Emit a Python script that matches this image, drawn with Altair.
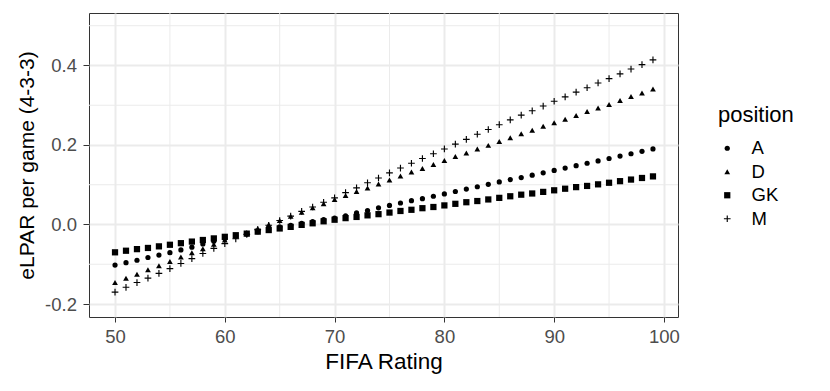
import altair as alt
import pandas as pd

ratings = list(range(50, 100))

A = [-0.102, -0.096, -0.090, -0.083, -0.077, -0.071, -0.064, -0.057, -0.049, -0.042,
     -0.035, -0.029, -0.024, -0.018, -0.012, -0.006, -0.002, 0.003, 0.007, 0.012,
     0.016, 0.022, 0.029, 0.035, 0.042, 0.048, 0.054, 0.060, 0.065, 0.071,
     0.077, 0.083, 0.089, 0.095, 0.101, 0.107, 0.113, 0.118, 0.124, 0.130,
     0.136, 0.142, 0.148, 0.154, 0.160, 0.166, 0.172, 0.178, 0.184, 0.190]

D = [-0.146, -0.135, -0.125, -0.114, -0.104, -0.093, -0.082, -0.071, -0.061, -0.050,
     -0.039, -0.029, -0.020, -0.010, 0.000, 0.010, 0.021, 0.031, 0.042, 0.052,
     0.063, 0.073, 0.083, 0.092, 0.102, 0.112, 0.122, 0.132, 0.141, 0.151,
     0.161, 0.171, 0.180, 0.190, 0.199, 0.209, 0.218, 0.228, 0.237, 0.247,
     0.256, 0.265, 0.274, 0.284, 0.293, 0.302, 0.312, 0.322, 0.331, 0.341]

GK = [-0.070, -0.066, -0.062, -0.059, -0.055, -0.051, -0.047, -0.043, -0.039, -0.035,
      -0.031, -0.027, -0.023, -0.018, -0.014, -0.010, -0.006, -0.001, 0.003, 0.008,
      0.012, 0.016, 0.019, 0.023, 0.026, 0.030, 0.034, 0.037, 0.041, 0.044,
      0.048, 0.052, 0.056, 0.059, 0.063, 0.067, 0.071, 0.075, 0.078, 0.082,
      0.086, 0.090, 0.094, 0.097, 0.101, 0.105, 0.109, 0.113, 0.117, 0.121]

M = [-0.170, -0.158, -0.146, -0.135, -0.123, -0.111, -0.098, -0.086, -0.073, -0.060,
     -0.048, -0.036, -0.025, -0.013, -0.002, 0.010, 0.021, 0.033, 0.044, 0.056,
     0.067, 0.080, 0.092, 0.105, 0.117, 0.130, 0.142, 0.154, 0.166, 0.178,
     0.190, 0.202, 0.214, 0.227, 0.239, 0.251, 0.263, 0.275, 0.286, 0.298,
     0.310, 0.321, 0.333, 0.344, 0.356, 0.367, 0.379, 0.391, 0.402, 0.414]

positions = ["A", "D", "GK", "M"]
x_major = [50, 60, 70, 80, 90, 100]
x_minor = [55, 65, 75, 85, 95]
y_major = [-0.2, 0.0, 0.2, 0.4]
y_minor = [-0.1, 0.1, 0.3, 0.5]

rows = []
for pos, vals in zip(positions, [A, D, GK, M]):
    for r, v in zip(ratings, vals):
        rows.append({"rating": r, "elpar": v, "position": pos})
df = pd.DataFrame(rows)

FONT = "Liberation Sans"
xscale = alt.Scale(domain=[47.63, 101.28], nice=False, zero=False)
yscale = alt.Scale(domain=[-0.2327, 0.532], nice=False, zero=False)

# plus sign drawn as a thin filled cross (ggplot shape 3)
PLUS = ("M-1,-0.17L1,-0.17L1,0.17L-1,0.17Z"
        "M-0.17,-1L0.17,-1L0.17,1L-0.17,1Z")

vminor = alt.Chart(pd.DataFrame({"v": x_minor})).mark_rule(
    color="#EBEBEB", strokeWidth=1
).encode(x=alt.X("v:Q", scale=xscale))
hminor = alt.Chart(pd.DataFrame({"v": y_minor})).mark_rule(
    color="#EBEBEB", strokeWidth=1
).encode(y=alt.Y("v:Q", scale=yscale))

leg = alt.Legend(title="position", orient="none", legendX=629, legendY=92,
                 titleFontSize=22, titleFont=FONT, titleFontWeight="normal",
                 labelFontSize=18.5, labelFont=FONT,
                 symbolOffset=0, labelOffset=15)

points = alt.Chart(df).mark_point(
    filled=True, color="black", opacity=1, strokeWidth=0
).encode(
    x=alt.X("rating:Q", scale=xscale, title="FIFA Rating",
            axis=alt.Axis(values=x_major, format="d", titleY=51,
                          titleBaseline="alphabetic", tickSize=5, labelPadding=5,
                          titleFontSize=22.5)),
    y=alt.Y("elpar:Q", scale=yscale, title="eLPAR per game (4-3-3)",
            axis=alt.Axis(values=y_major,
                          labelExpr="datum.value < 0 ? '-' + format(-datum.value, '.1f') : format(datum.value, '.1f')",
                          titleX=-62, titleY=152, titleAngle=-90,
                          titleAlign="center", titleBaseline="middle",
                          tickSize=6, labelPadding=6.5, titleFontSize=21)),
    shape=alt.Shape("position:N",
                    scale=alt.Scale(domain=positions,
                                    range=["circle", "triangle-up", "square", PLUS]),
                    legend=leg),
    size=alt.Size("position:N",
                  scale=alt.Scale(domain=positions, range=[27, 45, 25, 72]),
                  legend=leg),
)

chart = alt.layer(vminor, hminor, points).properties(
    width=589, height=304,
    autosize=alt.AutoSizeParams(type="none"),
    padding={"left": 81, "top": 5, "right": 144, "bottom": 66},
).configure_view(
    stroke="#333333", strokeWidth=1
).configure_axis(
    grid=True, gridColor="#EBEBEB", gridWidth=2,
    domain=False, tickColor="#333333", tickWidth=1,
    labelColor="#4D4D4D", labelFont=FONT, labelFontSize=18.5,
    titleColor="black", titleFont=FONT, titleFontSize=22.5, titleFontWeight="normal",
).configure_legend(
    titleFont=FONT, titleFontSize=22, titleFontWeight="normal", titleColor="black",
    labelFont=FONT, labelFontSize=18.5, labelColor="black",
    symbolFillColor="black", symbolStrokeWidth=0,
    rowPadding=4.5, titlePadding=12,
)

chart.save("out.html", embed_options={"renderer": "svg", "actions": False})
